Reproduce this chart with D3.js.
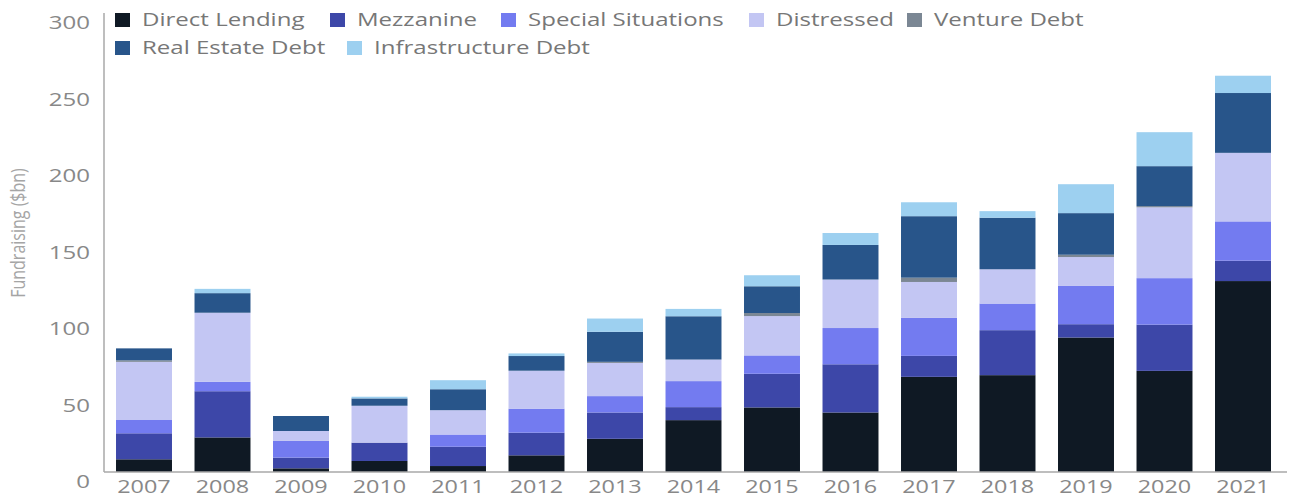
<!DOCTYPE html>
<html>
<head>
<meta charset="utf-8">
<script src="https://cdn.jsdelivr.net/npm/d3@7"></script>
<style>
  body { margin: 0; background: #fff; }
  text { font-family: "Open Sans", sans-serif; }
</style>
</head>
<body>
<div id="chart"></div>
<script>
var years = ["2007","2008","2009","2010","2011","2012","2013","2014","2015","2016","2017","2018","2019","2020","2021"];
var directLending = [8.3, 22.6, 2.4, 7.2, 3.9, 10.9, 21.7, 33.9, 42.2, 38.9, 62.2, 63.3, 87.9, 66.1, 124.8];
var mezzanine = [17, 30.2, 7.0, 12, 12.6, 14.8, 17.2, 8.5, 22, 31.5, 13.7, 29.4, 8.7, 30.2, 13.3];
var specialSituations = [8.7, 6.1, 10.9, 0, 8.0, 15.7, 10.7, 17, 12, 23.7, 24.8, 17.4, 25, 30.4, 25.7];
var distressed = [38, 45.2, 6.5, 24.1, 15.9, 24.8, 21.7, 14.1, 25.7, 31.7, 23.5, 22.4, 18.9, 46.3, 44.8];
var ventureDebt = [1, 0, 0, 0, 0, 0, 0.7, 0, 2, 0, 2.8, 0, 1.5, 0.8, 0];
var realEstateDebt = [7.8, 12.8, 9.8, 4.8, 13.7, 9.6, 19.6, 28.3, 17.5, 22.6, 40.2, 33.7, 27.2, 26.1, 39.1];
var infrastructureDebt = [0, 2.8, 0, 1.1, 5.9, 1.7, 8.7, 4.8, 7.2, 7.8, 9.1, 4.3, 18.9, 22.2, 11.3];
var yTicks = [0, 50, 100, 150, 200, 250, 300];

var keys = ["Direct Lending","Mezzanine","Special Situations","Distressed","Venture Debt","Real Estate Debt","Infrastructure Debt"];
var colors = ["#0f1924","#3d47a8","#737bf0","#c3c6f3","#7b8794","#28558a","#9dd0f0"];
var series = [directLending, mezzanine, specialSituations, distressed, ventureDebt, realEstateDebt, infrastructureDebt];

var data = years.map(function(y, i) {
  var row = { year: y };
  keys.forEach(function(k, j) { row[k] = series[j][i]; });
  return row;
});

var W = 1289, H = 497;
var sx = 1.3; // text in the picture is stretched horizontally
var svg = d3.select("#chart").append("svg").attr("width", W).attr("height", H);

var x = d3.scaleBand()
    .domain(years)
    .range([104.75, 1282.25])
    .paddingInner(0.287)
    .paddingOuter(0.1435);

var y = d3.scaleLinear()
    .domain([0, 300])
    .range([472, 13]);

var z = d3.scaleOrdinal().domain(keys).range(colors);

var stack = d3.stack().keys(keys);

svg.selectAll(".serie")
  .data(stack(data))
  .enter().append("g")
    .attr("class", "serie")
    .attr("fill", function(d) { return z(d.key); })
  .selectAll("rect")
  .data(function(d) { return d; })
  .enter().append("rect")
    .attr("x", function(d) { return x(d.data.year); })
    .attr("y", function(d) { return y(d[1]); })
    .attr("height", function(d) { return y(d[0]) - y(d[1]); })
    .attr("width", x.bandwidth());

// axis lines
svg.append("line").attr("x1", 104).attr("x2", 104).attr("y1", 13).attr("y2", 472)
  .attr("stroke", "#a8a8a8").attr("stroke-width", 1.5);
svg.append("line").attr("x1", 104).attr("x2", 1287).attr("y1", 472).attr("y2", 472)
  .attr("stroke", "#a8a8a8").attr("stroke-width", 1.5);

// y tick labels (sit a little below their value in the picture)
svg.selectAll(".ylab")
  .data(yTicks)
  .enter().append("text")
    .attr("class", "ylab")
    .attr("transform", function(d) { return "translate(90," + (y(d) + 10) + ") scale(" + sx + ",1)"; })
    .attr("dy", "0.35em")
    .attr("text-anchor", "end")
    .attr("font-size", "18.5px")
    .attr("fill", "#888")
    .text(function(d) { return d; });

// x tick labels
svg.selectAll(".xlab")
  .data(years)
  .enter().append("text")
    .attr("class", "xlab")
    .attr("transform", function(d) { return "translate(" + (x(d) + x.bandwidth() / 2) + ",487) scale(" + sx + ",1)"; })
    .attr("dy", "0.35em")
    .attr("text-anchor", "middle")
    .attr("font-size", "18px")
    .attr("fill", "#888")
    .text(function(d) { return d; });

// y axis title
svg.append("text")
  .attr("transform", "translate(18,233) scale(" + sx + ",1) rotate(-90)")
  .attr("dy", "0.35em")
  .attr("text-anchor", "middle")
  .attr("font-size", "16px")
  .attr("fill", "#a5a5a5")
  .text("Fundraising ($bn)");

// legend
var legendPos = [[115, 20], [330, 20], [501, 20], [749, 20], [907, 20], [115, 48], [347, 48]];
var legend = svg.selectAll(".legend")
  .data(keys)
  .enter().append("g")
    .attr("class", "legend")
    .attr("transform", function(d, i) { return "translate(" + legendPos[i][0] + "," + legendPos[i][1] + ")"; });

legend.append("rect")
  .attr("x", 0).attr("y", -7)
  .attr("width", 15).attr("height", 14)
  .attr("fill", function(d) { return z(d); });

legend.append("text")
  .attr("transform", "translate(27,0) scale(" + sx + ",1)")
  .attr("dy", "0.35em")
  .attr("font-size", "18.5px")
  .attr("fill", "#777")
  .text(function(d) { return d; });
</script>
</body>
</html>
